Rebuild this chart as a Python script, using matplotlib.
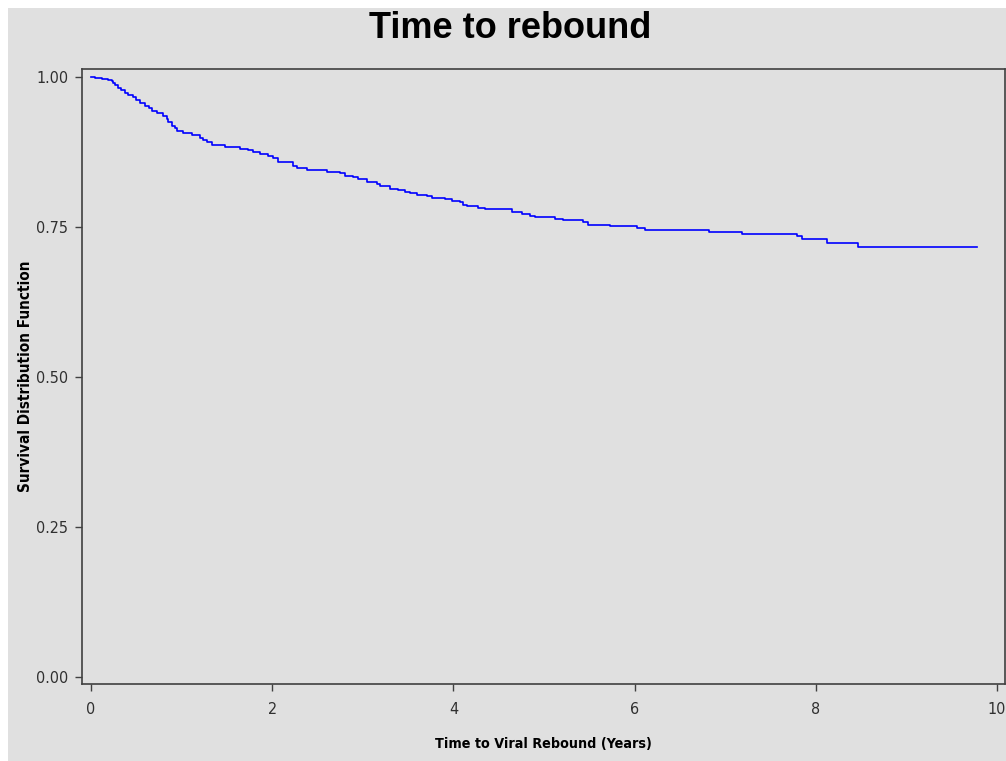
import matplotlib
matplotlib.use('Agg')
import matplotlib.pyplot as plt
from matplotlib import font_manager as fm
from matplotlib.patches import Rectangle

# Kaplan-Meier steps: time of drop (years) and survival after that drop
step_times = [0.0, 0.044, 0.121, 0.188, 0.232, 0.243, 0.265, 0.298, 0.331, 0.375,
              0.408, 0.464, 0.497, 0.541, 0.596, 0.640, 0.673, 0.728, 0.795, 0.839,
              0.850, 0.894, 0.927, 0.949, 1.015, 1.115, 1.203, 1.236, 1.280, 1.336,
              1.479, 1.645, 1.733, 1.788, 1.865, 1.954, 2.009, 2.064, 2.230, 2.274,
              2.384, 2.605, 2.748, 2.804, 2.892, 2.947, 3.046, 3.157, 3.190, 3.300,
              3.389, 3.466, 3.521, 3.598, 3.709, 3.764, 3.907, 3.985, 4.073, 4.106,
              4.150, 4.272, 4.349, 4.647, 4.757, 4.845, 4.901, 5.121, 5.210, 5.430,
              5.486, 5.728, 6.026, 6.115, 6.821, 7.185, 7.792, 7.848, 8.124, 8.466]
survival = [1.000, 0.998, 0.997, 0.995, 0.994, 0.990, 0.986, 0.982, 0.978, 0.974,
            0.970, 0.966, 0.962, 0.957, 0.952, 0.948, 0.943, 0.940, 0.935, 0.930,
            0.925, 0.918, 0.915, 0.910, 0.907, 0.903, 0.898, 0.895, 0.892, 0.887,
            0.883, 0.880, 0.878, 0.875, 0.872, 0.868, 0.865, 0.858, 0.852, 0.848,
            0.845, 0.842, 0.840, 0.835, 0.833, 0.830, 0.825, 0.822, 0.818, 0.814,
            0.811, 0.808, 0.806, 0.803, 0.801, 0.799, 0.797, 0.794, 0.791, 0.787,
            0.785, 0.782, 0.780, 0.775, 0.772, 0.768, 0.766, 0.763, 0.761, 0.759,
            0.753, 0.751, 0.749, 0.745, 0.742, 0.738, 0.735, 0.730, 0.724, 0.717]
last_time = 9.779

x_ticks = [0, 2, 4, 6, 8, 10]
y_ticks = [0.00, 0.25, 0.50, 0.75, 1.00]

bg = '#e0e0e0'
# condensed face stands in for the narrow SAS font
narrow = dict(family='DejaVu Sans', stretch='condensed')

# title in Liberation Sans Bold, picked by file so nothing condensed sneaks in
title_file = [f.fname for f in fm.fontManager.ttflist
              if f.fname.endswith('LiberationSans-Bold.ttf')]
if title_file:
    title_font = fm.FontProperties(fname=title_file[0], size=26)
else:
    title_font = fm.FontProperties(family='DejaVu Sans', weight='bold', size=24)

fig = plt.figure(figsize=(10.06, 7.61), dpi=100, facecolor='white')
# grey panel (thin white strip on top and left as in the original)
panel = Rectangle((8 / 1006, 0), 998 / 1006, 753 / 761,
                  transform=fig.transFigure, facecolor=bg,
                  edgecolor='none', zorder=-10)
fig.add_artist(panel)

ax = fig.add_axes([82 / 1006, 77 / 761, 923 / 1006, 615 / 761])
ax.set_facecolor(bg)

xs = step_times + [last_time]
ys = survival + [survival[-1]]
ax.step(xs, ys, where='post', color='#0000ff', linewidth=1.2)

ax.set_xlim(-0.099, 10.088)
ax.set_ylim(-0.0117, 1.0133)
ax.set_xticks(x_ticks)
ax.set_xticklabels([str(t) for t in x_ticks], **narrow)
ax.set_yticks(y_ticks)
ax.set_yticklabels([f"{t:.2f}" for t in y_ticks], **narrow)

for sp in ax.spines.values():
    sp.set_color('#404040')
    sp.set_linewidth(1.2)
ax.tick_params(direction='out', length=5, width=1, color='#404040',
               labelcolor='#303030', labelsize=11.5)
ax.tick_params(axis='x', pad=8)
ax.tick_params(axis='y', pad=5)

ax.set_xlabel('Time to Viral Rebound (Years)', fontsize=10.3,
              fontweight='bold', labelpad=14, **narrow)
ax.set_ylabel('Survival Distribution Function', fontsize=11,
              fontweight='bold', labelpad=2, **narrow)

fig.text(510 / 1006, 1 - 28 / 761, 'Time to rebound', ha='center', va='center',
         fontproperties=title_font)

fig.savefig('out.png', dpi=100, facecolor='white')
